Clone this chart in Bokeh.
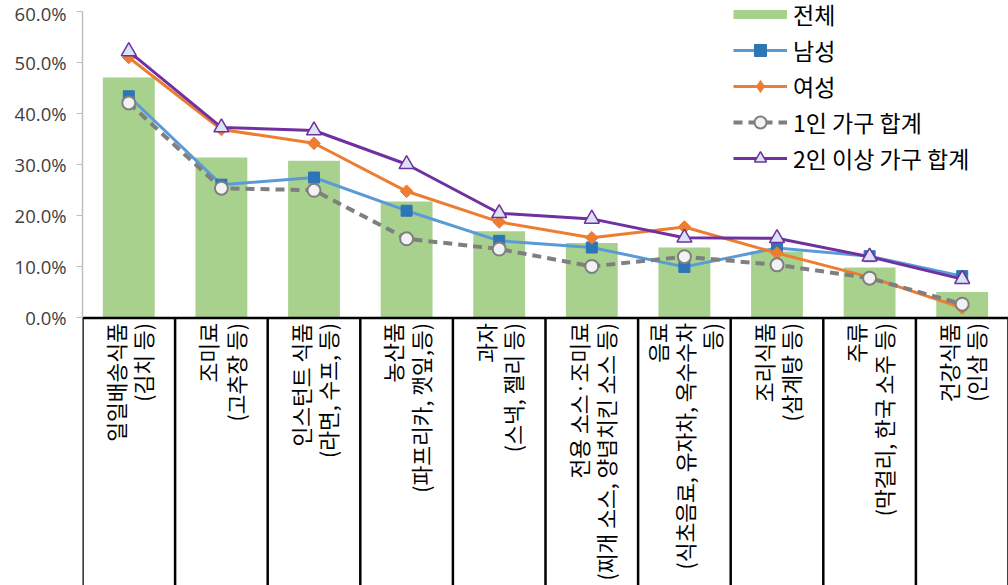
import math

from bokeh.core.properties import value
from bokeh.embed import file_html
from bokeh.models import (ColumnDataSource, FixedTicker, Label, Legend,
                          LegendItem, PrintfTickFormatter, Range1d)
from bokeh.plotting import figure
from bokeh.resources import INLINE

# Purchase rate by product type (%)
categories = [
    "일일배송식품\n(김치 등)",
    "조미료\n(고추장 등)",
    "인스턴트 식품\n(라면, 수프, 등)",
    "농산품\n(파프리카, 깻잎,등)",
    "과자\n(스낵, 젤리 등)",
    "전용 소스·조미료\n(찌개 소스, 양념치킨 소스 등)",
    "음료\n(식초음료, 유자차, 옥수수차\n등)",
    "조리식품\n(삼계탕 등)",
    "주류\n(막걸리, 한국 소주 등)",
    "건강식품\n(인삼 등)",
]
total = [47.1, 31.4, 30.8, 22.8, 17.0, 14.7, 13.8, 13.0, 9.9, 5.1]
male = [43.4, 26.1, 27.5, 21.0, 15.1, 13.8, 10.0, 13.7, 12.1, 8.2]
female = [51.0, 36.9, 34.2, 24.8, 18.8, 15.7, 17.8, 12.7, 8.0, 2.0]
single_household = [42.1, 25.4, 25.0, 15.5, 13.5, 10.1, 12.0, 10.4, 7.8, 2.7]
multi_household = [52.2, 37.3, 36.7, 30.1, 20.5, 19.4, 15.7, 15.6, 12.0, 7.6]
y_ticks = [0, 10, 20, 30, 40, 50, 60]

KR_FONT = "Noto Sans CJK KR"
n = len(categories)
xs = [i + 0.5 for i in range(n)]
NAN = [float("nan")]
Y_MIN, Y_MAX = -52.37, 62.15

src = ColumnDataSource(dict(
    x=xs, cat=categories, total=total, male=male, female=female,
    single=single_household, multi=multi_household,
))

p = figure(
    width=1008, height=585,
    x_range=Range1d(0, n), y_range=Range1d(Y_MIN, Y_MAX),
    x_axis_location=None,
    output_backend="svg", toolbar_location=None,
    min_border_left=82, min_border_right=0,
    min_border_top=0, min_border_bottom=0,
)
p.outline_line_color = None
p.xgrid.visible = False
p.ygrid.visible = False
p.background_fill_color = "white"
p.border_fill_color = "white"

# percentage axis, only over the 0–60 part of the frame
yax = p.yaxis[0]
yax.bounds = (0, 60)
yax.ticker = FixedTicker(ticks=y_ticks)
yax.formatter = PrintfTickFormatter(format="%.1f%%")
yax.minor_tick_line_color = None
yax.major_tick_in = 0
yax.major_tick_out = 6
yax.major_tick_line_color = "#BFBFBF"
yax.axis_line_color = "#BFBFBF"
yax.axis_line_width = 1.5
yax.major_label_text_font = "Open Sans"
yax.major_label_text_font_size = "18.5px"
yax.major_label_text_color = "#404040"
yax.major_label_standoff = 10

# bars for the overall rate
bars = p.vbar(x="x", top="total", width=0.56, bottom=0, source=src,
              fill_color="#A9D18E", line_color=None)

# category boxes under the baseline
p.segment(x0=0, y0=0, x1=n, y1=0, line_color="black", line_width=2.5)
p.segment(x0=list(range(n + 1)), y0=[0] * (n + 1),
          x1=list(range(n + 1)), y1=[Y_MIN] * (n + 1),
          line_color="black", line_width=2.5)

p.text(x="x", y=-1.0, text="cat", source=src, angle=math.pi / 2,
       text_align="right", text_baseline="middle",
       text_font=value(KR_FONT), text_font_size="21.5px",
       text_line_height=0.88, text_color="black")

# series lines
m_line = p.line("x", "male", source=src, line_color="#5B9BD5", line_width=3)
m_pts = p.scatter("x", "male", source=src, marker="square", size=11,
                  fill_color="#2E75B6", line_color="#2E75B6")

f_line = p.line("x", "female", source=src, line_color="#ED7D31", line_width=3)
f_pts = p.scatter("x", "female", source=src, marker="square", size=9,
                  angle=math.pi / 4,
                  fill_color="#ED7D31", line_color="#ED7D31")

s_line = p.line("x", "single", source=src, line_color="#7F7F7F",
                line_width=4, line_dash="9 6")
s_pts = p.scatter("x", "single", source=src, marker="circle", size=13,
                  fill_color="#F2F2F2", line_color="#7F7F7F", line_width=2)

t_line = p.line("x", "multi", source=src, line_color="#7030A0", line_width=3)
t_pts = p.scatter("x", "multi", source=src, marker="triangle", size=15,
                  fill_color="#DAE3F3", line_color="#7030A0", line_width=1.5)

# legend-only keys: a thick green stroke for the bars, a diamond for 여성
bar_key = p.line(x=NAN, y=NAN, line_color="#A9D18E", line_width=9)
f_key = p.scatter(x=NAN, y=NAN, marker="diamond", size=16,
                  fill_color="#ED7D31", line_color="#ED7D31")

legend = Legend(
    items=[
        LegendItem(label="전체", renderers=[bar_key]),
        LegendItem(label="남성", renderers=[m_line, m_pts]),
        LegendItem(label="여성", renderers=[f_line, f_key]),
        LegendItem(label="1인 가구 합계", renderers=[s_line, s_pts]),
        LegendItem(label="2인 이상 가구 합계", renderers=[t_line, t_pts]),
    ],
    location=(651, 410),
    orientation="vertical",
    glyph_width=54, glyph_height=30, label_height=30,
    spacing=2, padding=0, margin=0, label_standoff=6,
    label_text_font=KR_FONT, label_text_font_size="23px",
    label_text_color="black",
    border_line_color=None, background_fill_alpha=0,
)
p.add_layout(legend, "center")

p.add_layout(Label(x=-0.56, y=-50.6, text="(n)", text_baseline="top",
                   text_font=KR_FONT, text_font_size="18px",
                   text_color="black"))

with open("out.html", "w") as f:
    f.write(file_html(p, INLINE))
